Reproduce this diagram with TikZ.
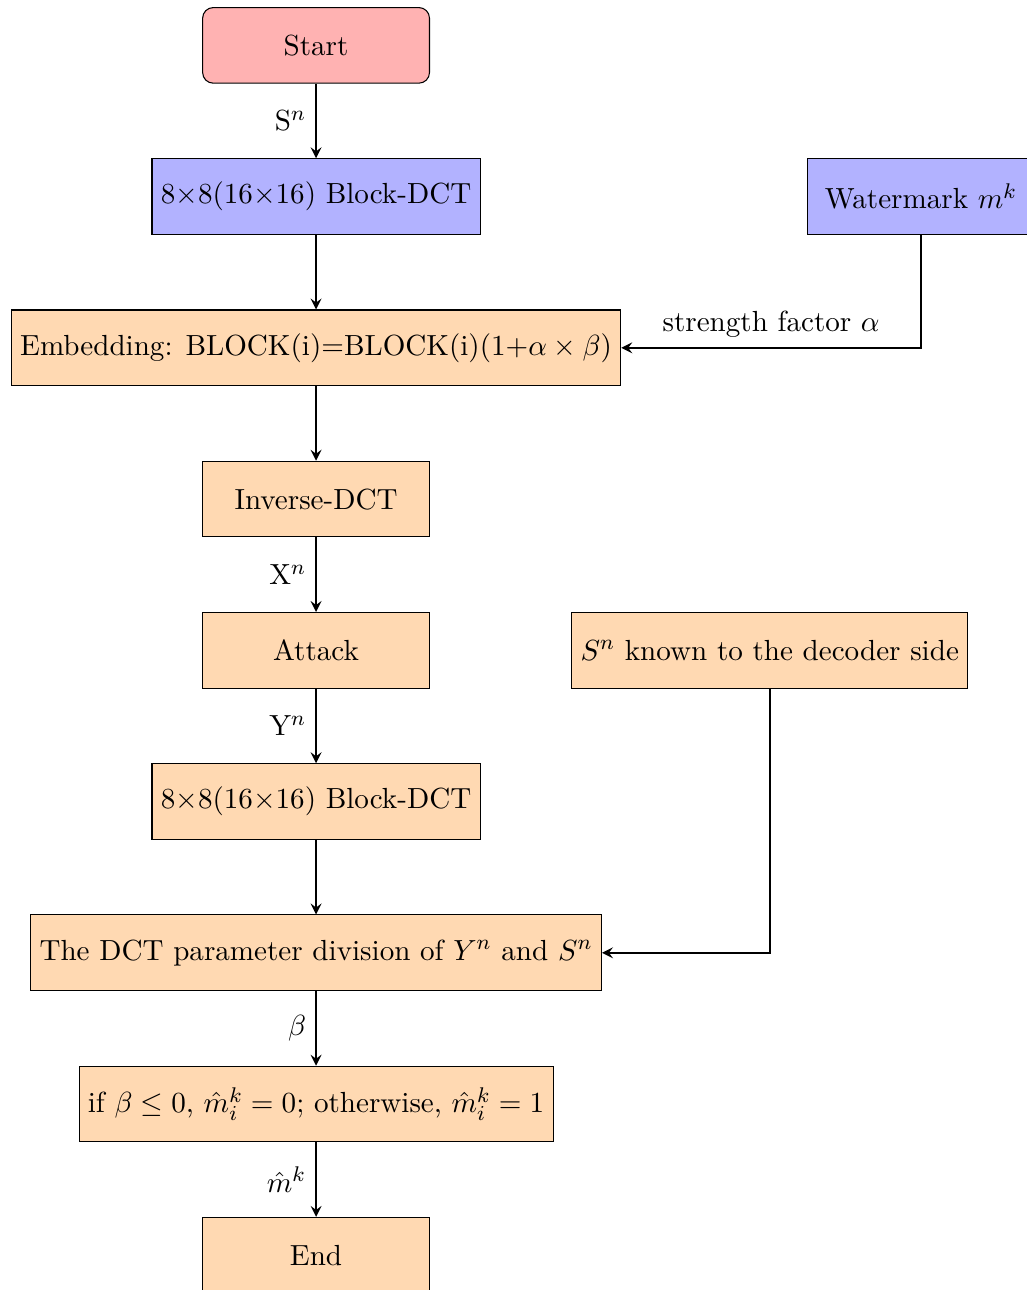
\documentclass[tikz,border=0pt]{standalone}
\usetikzlibrary{positioning}
\begin{document}
\begin{tikzpicture}[
  every node/.style={font=\fontsize{10.95}{13.6}\selectfont},
  box/.style={draw, rectangle, minimum width=3cm, minimum height=1cm, inner sep=0.3333em},
  startbox/.style={box, rounded corners, fill=red!30},
  bluebox/.style={box, fill=blue!30},
  procbox/.style={box, fill=orange!30},
  flow/.style={-stealth, thick},
  lbl/.style={midway, left}
]
\useasboundingbox (-4.18,0.6) rectangle (9.40,-16.46);

% main column
\node[startbox] (start) at (0,0) {Start};
\node[bluebox]  (dct1)  at (0,-2) {8$\times$8(16$\times$16) Block-DCT};
\node[procbox]  (emb)   at (0,-4) {Embedding: BLOCK(i)=BLOCK(i)(1+$\alpha\times\beta$)};
\node[procbox]  (idct)  at (0,-6) {Inverse-DCT};
\node[procbox]  (att)   at (0,-8) {Attack};
\node[procbox]  (dct2)  at (0,-10) {8$\times$8(16$\times$16) Block-DCT};
\node[procbox]  (div)   at (0,-12) {The DCT parameter division of $Y^n$ and $S^n$};
\node[procbox]  (dec)   at (0,-14) {if $\beta\leq 0$, $\hat{m}_i^k=0$; otherwise, $\hat{m}_i^k=1$};
\node[procbox]  (stop)  at (0,-16) {End};

% side inputs
\node[bluebox]  (wm)    at (8,-2) {Watermark $m^k$};
\node[procbox]  (known) at (6,-8) {$S^n$ known to the decoder side};

\draw[flow] (start) -- node[lbl] {S$^n$} (dct1);
\draw[flow] (dct1) -- (emb);
\draw[flow] (emb) -- (idct);
\draw[flow] (idct) -- node[lbl] {X$^n$} (att);
\draw[flow] (att) -- node[lbl] {Y$^n$} (dct2);
\draw[flow] (dct2) -- (div);
\draw[flow] (div) -- node[lbl] {$\beta$} (dec);
\draw[flow] (dec) -- node[lbl] {$\hat{m}^k$} (stop);

\draw[flow] (wm.south) |- node[pos=0.75, above] {strength factor $\alpha$} (emb.east);
\draw[flow] (known.south) |- (div.east);
\end{tikzpicture}
\end{document}
